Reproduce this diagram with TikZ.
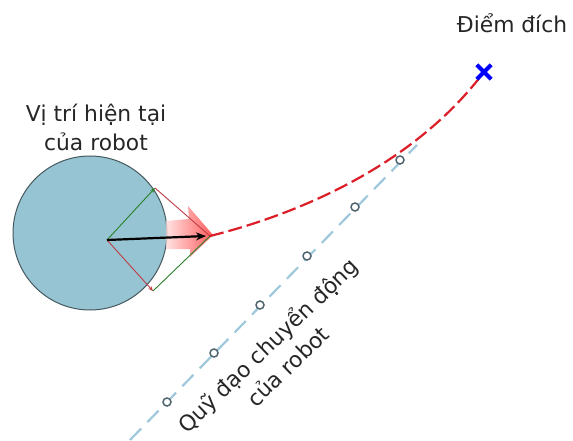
\documentclass[tikz,border=0pt]{standalone}
\usepackage{fontspec}
\setmainfont{DejaVu Sans}
\usetikzlibrary{arrows.meta}
\definecolor{robotfill}{RGB}{150,196,210}
\definecolor{robotedge}{RGB}{70,90,95}
\definecolor{trajblue}{RGB}{160,200,220}
\definecolor{dotedge}{RGB}{80,100,110}
\definecolor{pathred}{RGB}{220,30,40}
\definecolor{vecgreen}{RGB}{40,130,40}
\definecolor{vecred}{RGB}{190,60,70}
\tikzset{
  lbl/.style={font=\fontsize{21.8}{29}\selectfont, text=black!85, align=center, inner sep=0pt},
  wp/.style={circle, draw=dotedge, line width=1.5pt, fill=white, minimum size=8pt, inner sep=0pt},
  gvec/.style={draw=vecgreen, line width=0.9pt},
  rvec/.style={draw=vecred, line width=0.9pt},
}
\begin{document}
\begin{tikzpicture}[x=1pt,y=-1pt]
\useasboundingbox (0,0) rectangle (573,441);
\fill[white] (0,0) rectangle (573,441);
% trajectory line
\coordinate (t0) at (130,440);
\coordinate (t1) at (417,145);
\draw[trajblue, line width=2.2pt, dash pattern=on 16pt off 9pt] (t0) -- (t1);
\node[wp] (w1) at (167,402) {};
\node[wp] (w2) at (214,353) {};
\node[wp] (w3) at (260,305) {};
\node[wp] (w4) at (307,256) {};
\node[wp] (w5) at (355,207) {};
\node[wp] (w6) at (400,160) {};
% robot
\node[circle, draw=robotedge, line width=1pt, fill=robotfill, minimum size=154pt, inner sep=0pt] (robot) at (90,233) {};
\coordinate (o) at (107,240);
\coordinate (tip) at (210,236);
\coordinate (ctop) at (155,188);
\coordinate (cbot) at (153,291);
% translucent direction arrow
\shade[left color=red!15, right color=red!85, opacity=0.75]
  (166,221) -- (189,219) -- (188,206) -- (213,235) -- (190,257) -- (190,249) -- (166,249) -- cycle;
% vector parallelogram
\draw[gvec, -{Stealth[length=5pt,width=4pt]}] (o) -- (ctop);
\draw[rvec] (ctop) -- (tip);
\draw[rvec, -{Stealth[length=5pt,width=4pt]}] (o) -- (cbot);
\draw[gvec] (cbot) -- (tip);
% planned path
\coordinate (goal) at (484,72);
\draw[pathred, line width=2.2pt, dash pattern=on 14pt off 5pt]
  (tip) .. controls (290,216) and (410,170) .. (goal);
% heading arrow
\draw[black, line width=2.2pt, -{Stealth[length=10pt,width=8pt]}] (o) -- (206,236);
% goal cross
\node[inner sep=0pt, minimum size=14pt] (g) at (goal) {};
\draw[blue, line width=4pt] (g.north west) -- (g.south east);
\draw[blue, line width=4pt] (g.north east) -- (g.south west);
% labels
\node[lbl] (goallbl) at (512,23) {Điểm đích};
\node[lbl] (robotlbl) at (96,127) {Vị trí hiện tại\\của robot};
\node[lbl, rotate=44] (trajlbl) at (277,355) {Quỹ đạo chuyển động\\của robot};
\end{tikzpicture}
\end{document}
